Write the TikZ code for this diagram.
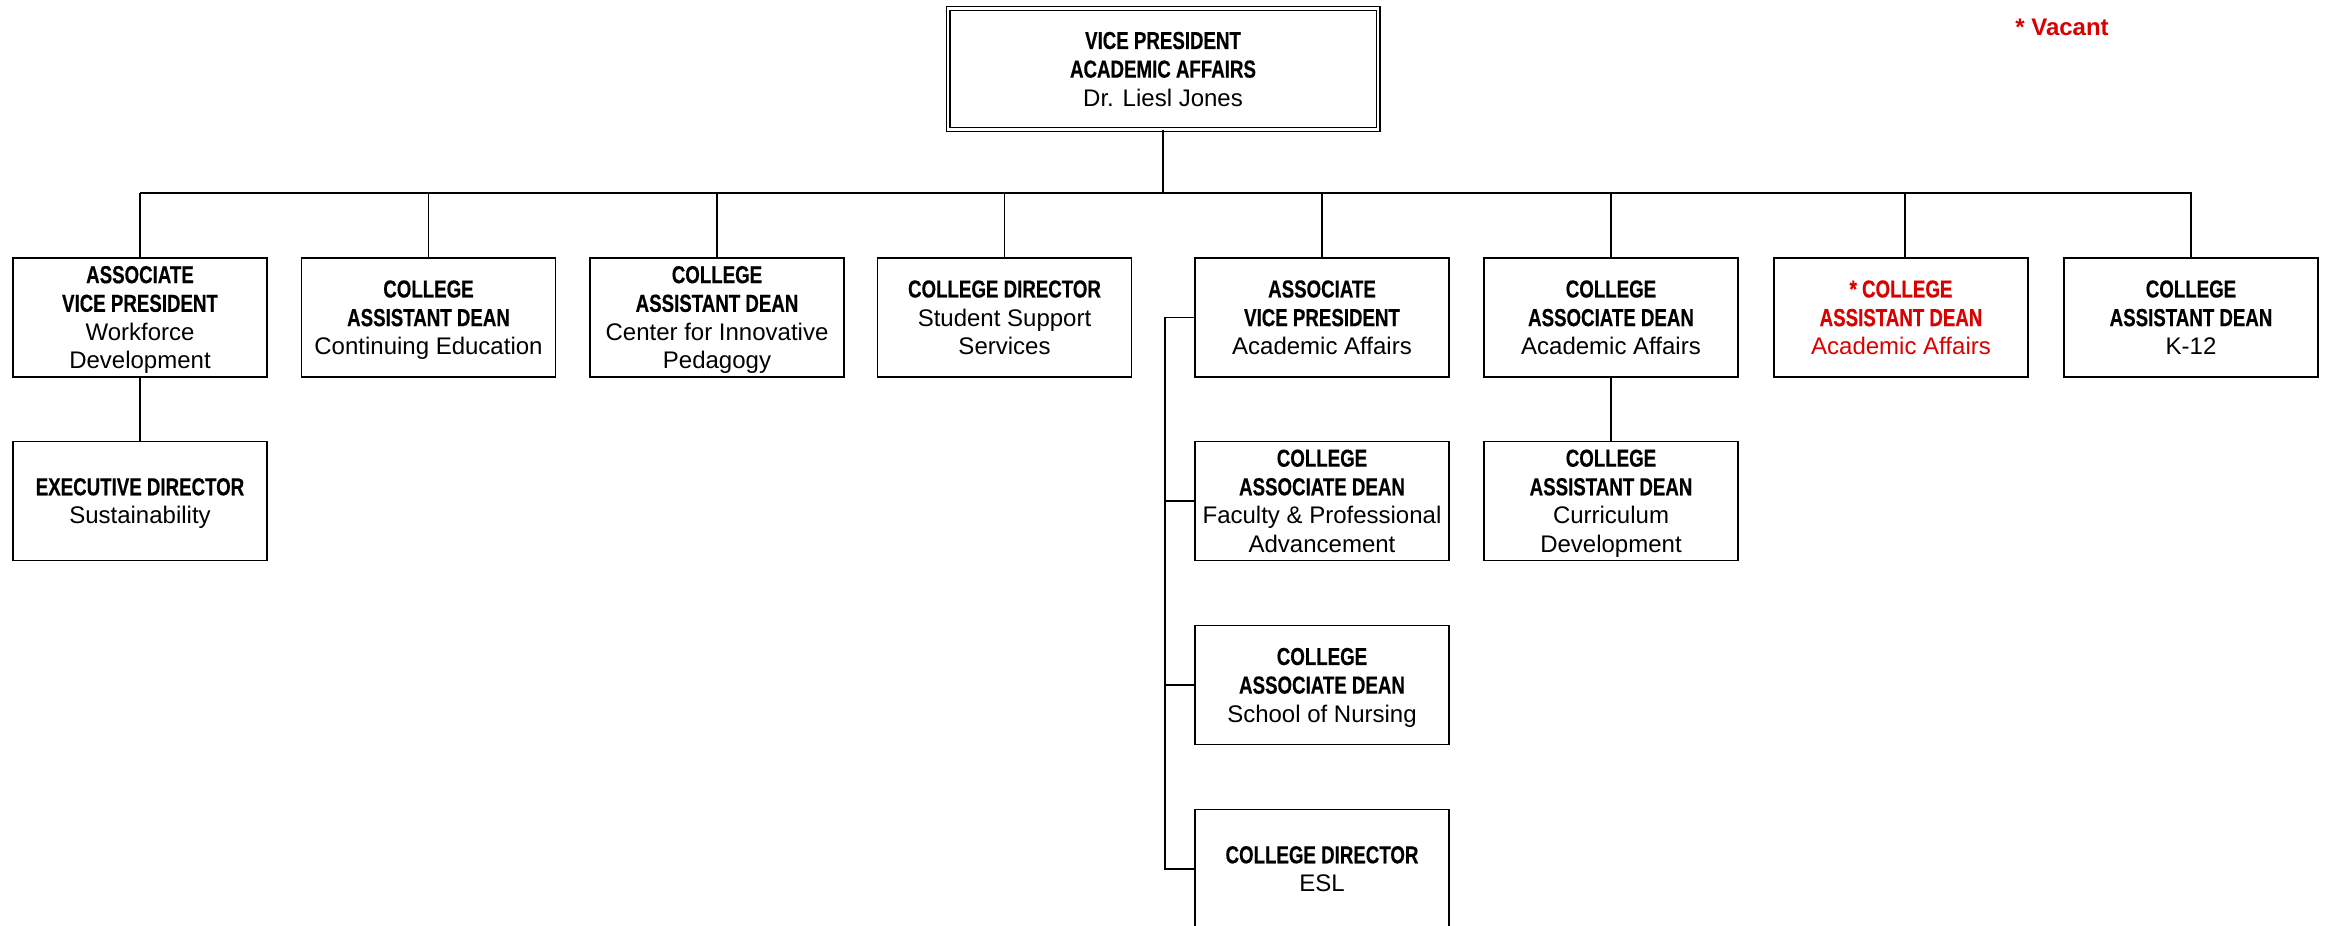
\documentclass[tikz,border=0pt]{standalone}
\usepackage{fontspec}
\setmainfont{Liberation Sans}
\newfontfamily\condfont[FakeStretch=0.76, BoldFeatures={FakeBold=0.4}]{Liberation Sans}
\definecolor{vacred}{RGB}{218,0,0}
\newcommand{\hdl}[1]{{\condfont\bfseries\fontsize{12.3}{14.3}\selectfont #1}}
\begin{document}
\begin{tikzpicture}[x=0.5pt,y=-0.5pt,
  box/.style={draw, line width=0.8pt, rectangle, minimum width=127pt, minimum height=59.5pt,
    inner sep=1pt, align=center, text depth=0pt, font=\fontsize{12}{14.3}\selectfont},
  link/.style={line width=0.7pt}]
\useasboundingbox (0,0) rectangle (2325,926);
% top
\node[box, double, line width=0.6pt, double distance=1.3pt, minimum width=215pt, minimum height=60.5pt] (vp) at (1163,69)
  {\hdl{VICE PRESIDENT}\\\hdl{ACADEMIC AFFAIRS}\\Dr. Liesl Jones};
% row 1
\node[box] (b1) at (140,317.5) {\hdl{ASSOCIATE}\\\hdl{VICE PRESIDENT}\\Workforce\\Development};
\node[box] (b2) at (428.5,317.5) {\hdl{COLLEGE}\\\hdl{ASSISTANT DEAN}\\Continuing Education};
\node[box] (b3) at (717,317.5) {\hdl{COLLEGE}\\\hdl{ASSISTANT DEAN}\\Center for Innovative\\Pedagogy};
\node[box] (b4) at (1004.5,317.5) {\hdl{COLLEGE DIRECTOR}\\Student Support\\Services};
\node[box] (b5) at (1322,317.5) {\hdl{ASSOCIATE}\\\hdl{VICE PRESIDENT}\\Academic Affairs};
\node[box] (b6) at (1611,317.5) {\hdl{COLLEGE}\\\hdl{ASSOCIATE DEAN}\\Academic Affairs};
\node[box, text=vacred] (b7) at (1901,317.5) {\hdl{* COLLEGE}\\\hdl{ASSISTANT DEAN}\\Academic Affairs};
\node[box] (b8) at (2191,317.5) {\hdl{COLLEGE}\\\hdl{ASSISTANT DEAN}\\K-12};
% row 2
\node[box] (e1) at (140,501) {\hdl{EXECUTIVE DIRECTOR}\\Sustainability};
\node[box] (f1) at (1322,501) {\hdl{COLLEGE}\\\hdl{ASSOCIATE DEAN}\\Faculty \& Professional\\Advancement};
\node[box] (c1) at (1611,501) {\hdl{COLLEGE}\\\hdl{ASSISTANT DEAN}\\Curriculum\\Development};
% row 3, 4
\node[box] (n1) at (1322,685) {\hdl{COLLEGE}\\\hdl{ASSOCIATE DEAN}\\School of Nursing};
\node[box] (esl) at (1322,869) {\hdl{COLLEGE DIRECTOR}\\ESL};
% legend
\node[font=\fontsize{12}{14}\selectfont\bfseries, text=vacred] (vac) at (2062,27) {* Vacant};
% connectors
\coordinate (bus) at (0,193);
\coordinate (brk) at (1165,0);
\draw[link] (vp.south) -- (vp.south |- bus);
\draw[link] (b1.north |- bus) -- ([xshift=2pt]b7.north |- bus) -| (b8.north);
\foreach \n in {b1,b2,b3,b4,b5,b6}{\draw[link] (\n.north) -- (\n.north |- bus);}
\draw[link] ([xshift=2pt]b7.north) -- ([xshift=2pt]b7.north |- bus);
\draw[link] (b1.south) -- (e1.north);
\draw[link] (b6.south) -- (c1.north);
\draw[link] (b5.west) -- (b5.west -| brk) -- (esl.west -| brk) -- (esl.west);
\draw[link] (f1.west -| brk) -- (f1.west);
\draw[link] (n1.west -| brk) -- (n1.west);
\end{tikzpicture}
\end{document}
